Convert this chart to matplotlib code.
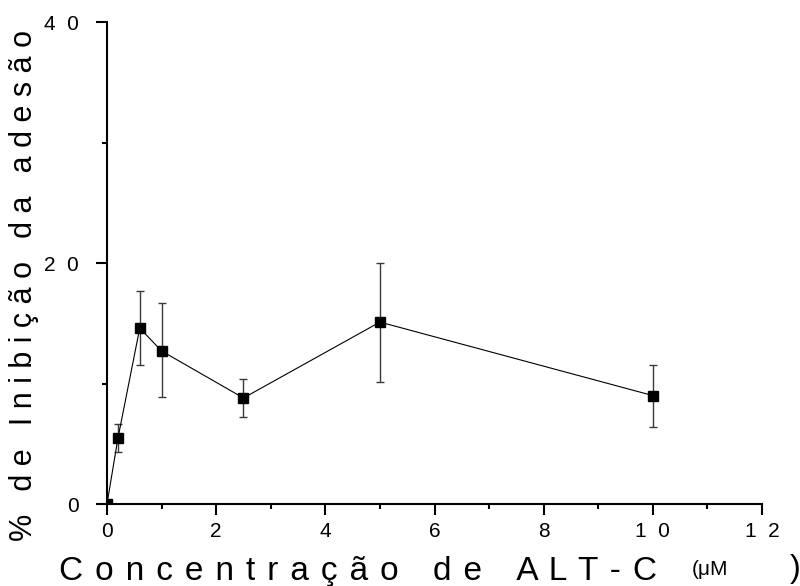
import matplotlib.pyplot as plt
from matplotlib.ticker import MultipleLocator, FixedFormatter, FixedLocator

plt.rcParams['font.family'] = ['Liberation Sans', 'DejaVu Sans']

# concentração (uM), média e desvio
conc = [0, 0.2, 0.6, 1.0, 2.5, 5.0, 10.0]
inibicao = [0, 5.45, 14.6, 12.7, 8.8, 15.1, 9.0]
erro_sup = [0, 1.15, 3.1, 4.0, 1.6, 4.9, 2.55]
erro_inf = [0, 1.15, 3.1, 3.85, 1.6, 5.0, 2.6]

xticks = [0, 2, 4, 6, 8, 10, 12]
xtick_labels = ['0', '2', '4', '6', '8', '1  0', '1  2']
yticks = [0, 20, 40]
ytick_labels = ['0', '2  0', '4  0']


def espacado(texto, letra, palavra):
    # separa as letras para ficar com o aspecto "espaçado" do original
    return palavra.join(letra.join(p) for p in texto.split(' '))


fig = plt.figure(figsize=(8, 5.86), dpi=100)
ax = fig.add_axes([0.13375, 0.1399, 0.81875, 0.8225])

ax.errorbar(conc, inibicao, yerr=[erro_inf, erro_sup], fmt='none',
            ecolor='#3a3a3a', elinewidth=1, capsize=3, capthick=1, zorder=2)
ax.plot(conc, inibicao, color='black', lw=0.8, marker='s', ms=7.5,
        mfc='black', mec='black', zorder=3)

ax.set_xlim(0, 12)
ax.set_ylim(0, 40)

ax.xaxis.set_major_locator(FixedLocator(xticks))
ax.xaxis.set_major_formatter(FixedFormatter(xtick_labels))
ax.xaxis.set_minor_locator(MultipleLocator(1))
ax.yaxis.set_major_locator(FixedLocator(yticks))
ax.yaxis.set_major_formatter(FixedFormatter(ytick_labels))
ax.yaxis.set_minor_locator(MultipleLocator(10))

for s in ['top', 'right']:
    ax.spines[s].set_visible(False)
for s in ['left', 'bottom']:
    ax.spines[s].set_linewidth(1.5)

ax.tick_params(which='major', direction='out', length=8, width=1.5,
               labelsize=15)
ax.tick_params(axis='y', which='major', pad=12)
ax.tick_params(axis='x', which='major', pad=5)
ax.tick_params(which='minor', direction='out', length=3.5, width=1.5)

fig.text(0.03, 0.512, espacado('% de Inibição da adesão', ' ', '  \u2009'),
         rotation=90, ha='center', va='center', fontsize=22)
fig.text(0.074, 0.0102, espacado('Concentração de ALT-C', ' \u200a', '   \u2009'),
         ha='left', va='baseline', fontsize=24)
fig.text(0.865, 0.019, '(μM', ha='left', va='baseline', fontsize=15)
fig.text(0.9875, 0.0154, ')', ha='left', va='baseline', fontsize=23)

fig.savefig('out.png', dpi=100)
